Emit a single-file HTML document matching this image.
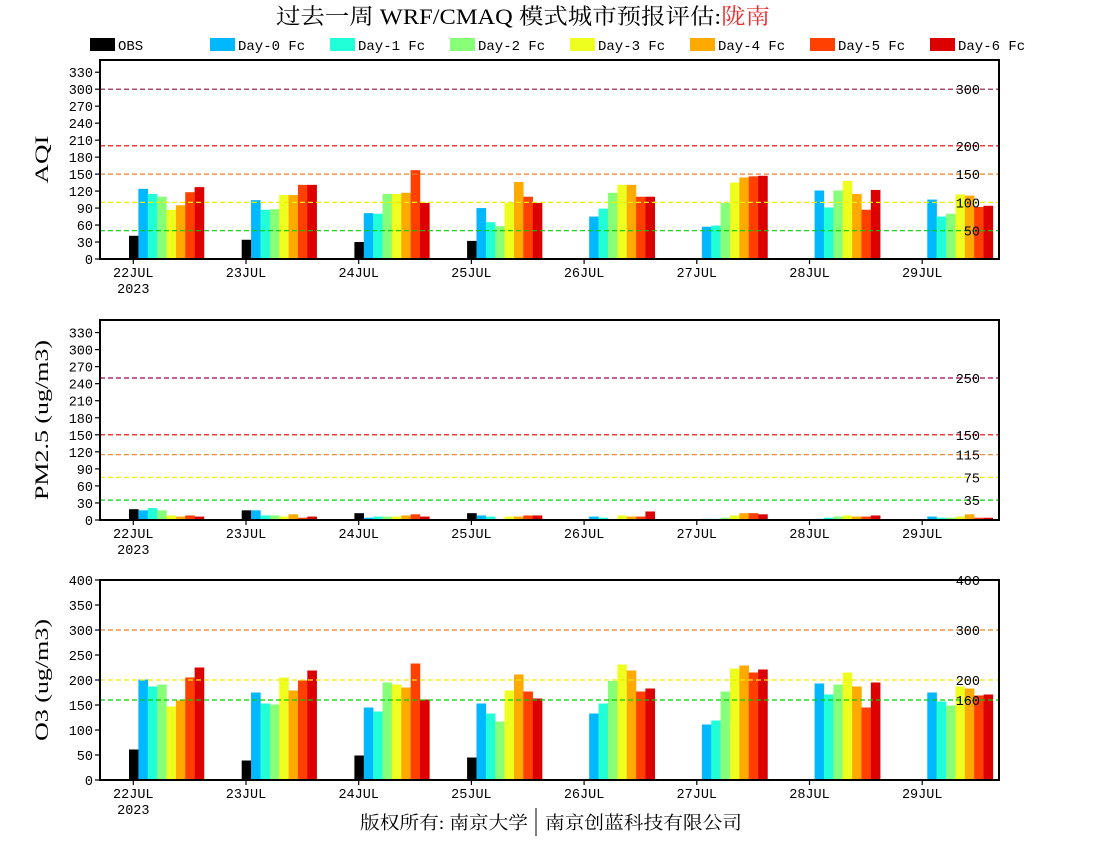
<!DOCTYPE html>
<html><head><meta charset="utf-8"><style>
html,body{margin:0;padding:0;background:#fff;width:1100px;height:850px;overflow:hidden}
svg text{font-family:"Liberation Mono","DejaVu Sans Mono",monospace}
</style></head><body>
<svg id="s" width="1100" height="850" xmlns="http://www.w3.org/2000/svg">
<text x="276" y="24" font-size="22" textLength="494" lengthAdjust="spacingAndGlyphs" style='font-family:"Liberation Serif","Noto Serif CJK SC",serif'>过去一周 WRF/CMAQ 模式城市预报评估:<tspan fill="#e83030">陇南</tspan></text>
<text x="360" y="829" font-size="18" textLength="168" lengthAdjust="spacingAndGlyphs" style='font-family:"Liberation Serif","Noto Serif CJK SC",serif'>版权所有: 南京大学</text>
<line x1="536" y1="808" x2="536" y2="836" stroke="#000" stroke-width="1"/>
<text x="545" y="829" font-size="18" textLength="197" lengthAdjust="spacingAndGlyphs" style='font-family:"Liberation Serif","Noto Serif CJK SC",serif'>南京创蓝科技有限公司</text>
</svg>
<script>
var s=document.getElementById('s'),NS='http://www.w3.org/2000/svg';
function el(t,a,txt){var e=document.createElementNS(NS,t);for(var k in a)e.setAttribute(k,a[k]);if(txt!=null)e.textContent=txt;s.appendChild(e);return e;}
var cols=['#000000','#00b8ff','#20ffd8','#88ff78','#eeff20','#ffaa00','#ff4000','#dd0000'];
var names=['OBS','Day-0 Fc','Day-1 Fc','Day-2 Fc','Day-3 Fc','Day-4 Fc','Day-5 Fc','Day-6 Fc'];
for(var i=0;i<8;i++){var bx=i==0?90:210+(i-1)*120;
el('rect',{x:bx,y:38,width:25,height:13,fill:cols[i]});
el('text',{x:bx+28,y:50,'font-size':14},names[i]);}
var days=['22JUL','23JUL','24JUL','25JUL','26JUL','27JUL','28JUL','29JUL'];
var L=100,R=999;
function tx(d){return 133.3+d*112.7;}
var panels=[
{top:60,bot:259,ppu:0.566,step:30,max:330,title:'AQI',tl:48,
 lines:[[50,'#00d000'],[100,'#eeee00'],[150,'#f08020'],[200,'#ee0000'],[300,'#901040']],
 data:[[41,124,115,110,87,95,118,127],[34,104,87,88,113,113,131,131],[30,81,80,115,115,117,157,99],[32,90,65,58,99,136,110,99],
 [null,75,89,117,131,131,110,110],[null,57,59,99,135,144,146,147],[null,121,91,121,138,115,87,122],[null,105,75,80,114,112,92,94]]},
{top:320,bot:520,ppu:0.568,step:30,max:330,title:'PM2.5 (ug/m3)',tl:160,
 lines:[[35,'#00d000'],[75,'#eeee00'],[115,'#f08020'],[150,'#ee0000'],[250,'#a00050']],
 data:[[19,17,21,17,8,6,8,6],[17,17,8,8,6,10,4,6],[12,4,6,6,6,8,10,6],[12,8,6,2,6,6,8,8],
 [null,6,4,2,8,6,6,15],[null,2,2,4,8,12,12,10],[null,2,4,6,8,6,6,8],[null,6,4,4,6,10,4,4]]},
{top:580,bot:780,ppu:0.5,step:50,max:400,title:'O3 (ug/m3)',tl:122,
 lines:[[160,'#00d000'],[200,'#eeee00'],[300,'#f08020'],[400,'#ee0000']],
 data:[[61,201,187,191,147,159,205,225],[39,175,153,151,205,179,199,219],[49,145,137,195,191,185,233,161],[45,153,133,117,179,211,177,163],
 [null,133,153,198,231,219,177,183],[null,111,119,177,223,229,215,221],[null,193,171,191,215,187,145,195],[null,175,157,149,187,183,169,171]]}
];
panels.forEach(function(p){
 var Y=function(v){return p.bot-v*p.ppu;};
 p.data.forEach(function(dd,d){dd.forEach(function(v,i){if(v==null)return;
  var x=tx(d)-4.3+i*9.375;
  el('rect',{x:x.toFixed(2),y:Y(v).toFixed(2),width:9.6,height:(v*p.ppu).toFixed(2),fill:cols[i]});});});
 p.lines.forEach(function(l){var y=Y(l[0]);
  el('line',{x1:L,x2:R,y1:y,y2:y,stroke:l[1],'stroke-width':1.2,'stroke-dasharray':'5,3'});
  el('text',{x:980,y:y+5,'text-anchor':'end','font-size':13.5},String(l[0]));});
 el('rect',{x:L,y:p.top,width:R-L,height:p.bot-p.top,fill:'none',stroke:'#000','stroke-width':2});
 for(var v=0;v<=p.max;v+=p.step){var y=Y(v);
  el('line',{x1:L-5,x2:L,y1:y,y2:y,stroke:'#000','stroke-width':1.2});
  el('text',{x:93,y:y+5,'text-anchor':'end','font-size':13.5},String(v));}
 days.forEach(function(n,d){var x=tx(d);
  el('line',{x1:x,x2:x,y1:p.bot,y2:p.bot+5,stroke:'#000','stroke-width':1.2});
  el('text',{x:x,y:p.bot+18,'text-anchor':'middle','font-size':13.5},n);});
 el('text',{x:tx(0),y:p.bot+34,'text-anchor':'middle','font-size':13.5},'2023');
 var cy=(p.top+p.bot)/2;
 el('text',{x:0,y:0,'text-anchor':'middle','font-size':19,textLength:p.tl,lengthAdjust:'spacingAndGlyphs',transform:'translate(48,'+cy+') rotate(-90)',style:'font-family:"Liberation Serif",serif'},p.title);
});
</script>
</body></html>
